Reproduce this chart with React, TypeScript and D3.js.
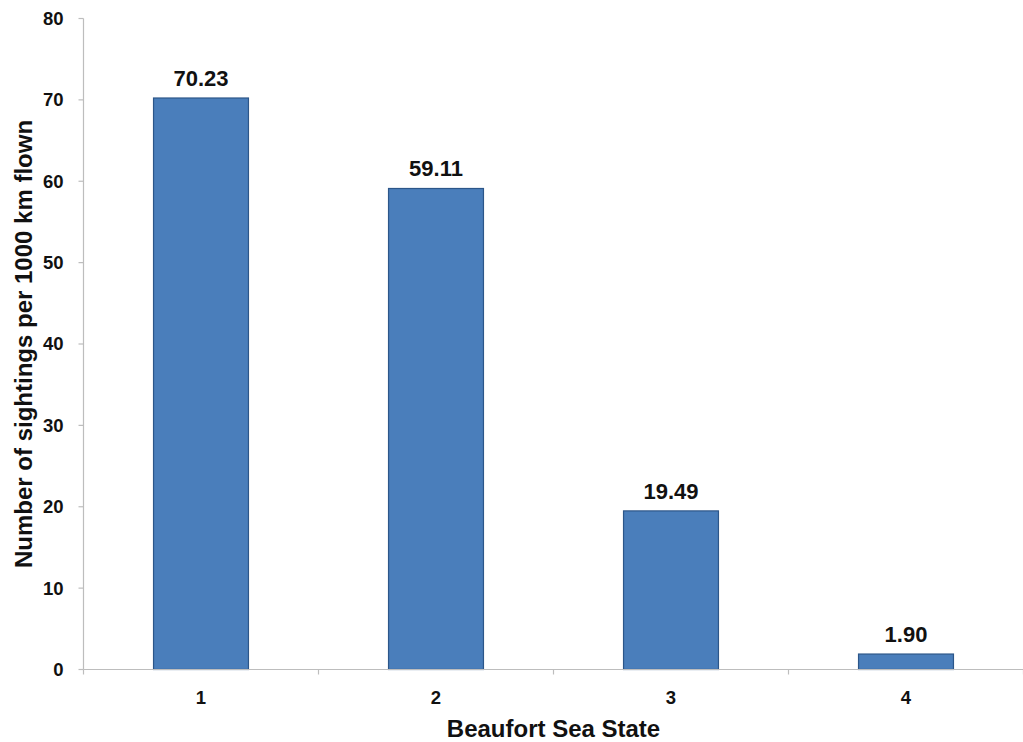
import React from "react";
import * as d3 from "d3";

const categories = ["1", "2", "3", "4"];
const values = [70.23, 59.11, 19.49, 1.9];
const yTicks = [0, 10, 20, 30, 40, 50, 60, 70, 80];

const W = 1023;
const H = 742;
const M = { left: 83.5, right: 0, top: 18.5, bottom: 72.5 };

export default function App() {
  const x = d3
    .scaleBand<string>()
    .domain(categories)
    .range([M.left, 1023.5])
    .paddingInner(0)
    .paddingOuter(0);
  const y = d3.scaleLinear().domain([0, 80]).range([H - M.bottom, M.top]);
  const barW = x.bandwidth() * 0.404;
  const font = "Liberation Sans, Arial, sans-serif";
  const boundaries = categories.map((c) => x(c)!).concat([1023.5]);

  return (
    <svg
      width={W}
      height={H}
      style={{ position: "absolute", left: 0, top: 0, background: "#fff" }}
      fontFamily={font}
    >
      {/* y axis */}
      <line x1={M.left} x2={M.left} y1={y(0)} y2={y(80)} stroke="#bdbdbd" strokeWidth={1.2} />
      {yTicks.map((t) => (
        <g key={t}>
          <line x1={M.left - 5} x2={M.left} y1={y(t)} y2={y(t)} stroke="#bdbdbd" strokeWidth={1.2} />
          <text x={M.left - 20} y={y(t)} dy="0.35em" textAnchor="end" fontSize={18.5} fontWeight="bold" fill="#111">
            {t}
          </text>
        </g>
      ))}
      {/* bars */}
      {categories.map((c, i) => {
        const cx = x(c)! + x.bandwidth() / 2;
        return (
          <g key={c}>
            <rect
              x={cx - barW / 2}
              y={y(values[i])}
              width={barW}
              height={y(0) - y(values[i])}
              fill="#4a7ebb"
              stroke="#2c5689"
              strokeWidth={1.2}
            />
            <text x={cx} y={y(values[i]) - 12} textAnchor="middle" fontSize={22} fontWeight="bold" fill="#111">
              {values[i].toFixed(2)}
            </text>
            <text x={cx} y={y(0) + 34.5} textAnchor="middle" fontSize={18.5} fontWeight="bold" fill="#111">
              {c}
            </text>
          </g>
        );
      })}
      {/* x axis */}
      <line x1={M.left} x2={1023.5} y1={y(0)} y2={y(0)} stroke="#bdbdbd" strokeWidth={1.2} />
      {boundaries.map((b, i) => (
        <line key={i} x1={b} x2={b} y1={y(0)} y2={y(0) + 5} stroke="#bdbdbd" strokeWidth={1.2} />
      ))}
      <text x={(M.left + 1023.5) / 2} y={737} textAnchor="middle" fontSize={24} fontWeight="bold" fill="#111">
        Beaufort Sea State
      </text>
      <text
        transform={`translate(32, ${(y(0) + y(80)) / 2}) rotate(-90)`}
        textAnchor="middle"
        fontSize={24}
        fontWeight="bold"
        fill="#111"
      >
        Number of sightings per 1000 km flown
      </text>
    </svg>
  );
}
